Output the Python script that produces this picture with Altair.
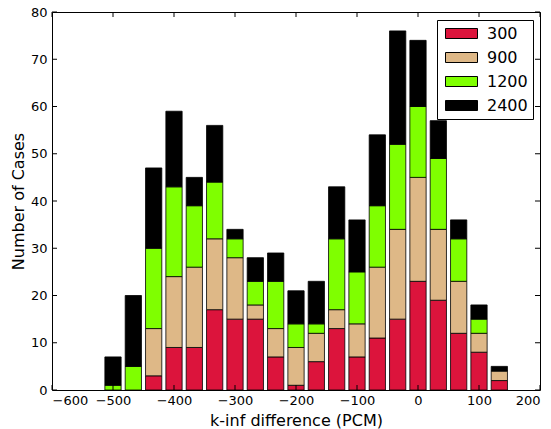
import altair as alt
import pandas as pd

# Histogram bin centres (PCM) and stacked counts per group
centers = [-500.0, -466.67, -433.33, -400.0, -366.67, -333.33, -300.0, -266.67, -233.33, -200.0,
           -166.67, -133.33, -100.0, -66.67, -33.33, 0.0, 33.33, 66.67, 100.0, 133.33]
c300 = [0, 0, 3, 9, 9, 17, 15, 15, 7, 1, 6, 13, 7, 11, 15, 23, 19, 12, 8, 2]
c900 = [0, 0, 10, 15, 17, 15, 13, 3, 6, 8, 6, 4, 7, 15, 19, 22, 15, 11, 4, 2]
c1200 = [1, 5, 17, 19, 13, 12, 4, 5, 10, 5, 2, 15, 11, 13, 18, 15, 15, 9, 3, 0]
c2400 = [6, 15, 17, 16, 6, 12, 2, 5, 6, 7, 9, 11, 11, 15, 24, 14, 8, 4, 3, 1]

series_names = ["300", "900", "1200", "2400"]
series_colors = ["#DC143C", "#DEB887", "#7FFF00", "#000000"]
x_ticks = [-600, -500, -400, -300, -200, -100, 0, 100, 200]
y_ticks = [0, 10, 20, 30, 40, 50, 60, 70, 80]

bin_width = 100.0 / 3.0
half_bar = 0.8 * bin_width / 2.0

rows = []
for i, c in enumerate(centers):
    base = 0
    for name, counts in zip(series_names, [c300, c900, c1200, c2400]):
        n = counts[i]
        if n > 0:
            rows.append({"series": name, "left": c - half_bar, "right": c + half_bar,
                         "bottom": base, "top": base + n, "count": n})
        base += n
df = pd.DataFrame(rows)

W, H = 488, 378
xscale = alt.Scale(domain=[-600, 200], nice=False, zero=False)
yscale = alt.Scale(domain=[0, 80], nice=False)
xaxis = alt.Axis(values=x_ticks, ticks=False, domain=False, grid=False,
                 labelPadding=4, titlePadding=5)
yaxis = alt.Axis(values=y_ticks, ticks=False, domain=False, grid=False,
                 labelPadding=5, titlePadding=4)
xtitle = "k-inf difference (PCM)"
ytitle = "Number of Cases"

bars = alt.Chart(df).mark_bar(stroke="black", strokeWidth=0.8).encode(
    x=alt.X("left:Q", scale=xscale, axis=xaxis, title=xtitle),
    x2="right:Q",
    y=alt.Y("bottom:Q", scale=yscale, axis=yaxis, title=ytitle),
    y2="top:Q",
    color=alt.Color("series:N",
                    scale=alt.Scale(domain=series_names, range=series_colors),
                    legend=alt.Legend(
                        title=None, orient="none", legendX=385, legendY=8,
                        symbolType="M-2,-0.625L2,-0.625L2,0.625L-2,0.625Z",
                        symbolSize=256, symbolStrokeColor="black", symbolStrokeWidth=1,
                        symbolOffset=11, labelOffset=17, labelFontSize=16,
                        labelFont="DejaVu Sans", labelColor="black",
                        rowPadding=7, padding=5, fillColor="white",
                        strokeColor="black", cornerRadius=0)),
)

# inward-pointing ticks on all four sides of the frame
tick_len = 5
xt = pd.DataFrame({"t": x_ticks})
yt = pd.DataFrame({"t": y_ticks})
bottom_ticks = alt.Chart(xt).mark_rule(color="black", strokeWidth=1).encode(
    x=alt.X("t:Q", scale=xscale, axis=xaxis, title=xtitle),
    y=alt.value(H), y2=alt.value(H - tick_len))
top_ticks = alt.Chart(xt).mark_rule(color="black", strokeWidth=1).encode(
    x=alt.X("t:Q", scale=xscale, axis=xaxis, title=xtitle),
    y=alt.value(0), y2=alt.value(tick_len))
left_ticks = alt.Chart(yt).mark_rule(color="black", strokeWidth=1).encode(
    y=alt.Y("t:Q", scale=yscale, axis=yaxis, title=ytitle),
    x=alt.value(0), x2=alt.value(tick_len))
right_ticks = alt.Chart(yt).mark_rule(color="black", strokeWidth=1).encode(
    y=alt.Y("t:Q", scale=yscale, axis=yaxis, title=ytitle),
    x=alt.value(W), x2=alt.value(W - tick_len))

chart = alt.layer(bars, bottom_ticks, top_ticks, left_ticks, right_ticks).properties(
    width=W, height=H,
    autosize=alt.AutoSizeParams(type="none"),
    padding={"left": 52, "top": 12, "right": 11, "bottom": 39},
    background="white",
).configure_view(
    stroke="black", strokeWidth=1
).configure_axis(
    labelFont="DejaVu Sans", labelFontSize=13, labelColor="black",
    titleFont="DejaVu Sans", titleFontSize=16, titleFontWeight="normal", titleColor="black",
)

chart.save("out.html", embed_options={"renderer": "svg", "actions": False})
